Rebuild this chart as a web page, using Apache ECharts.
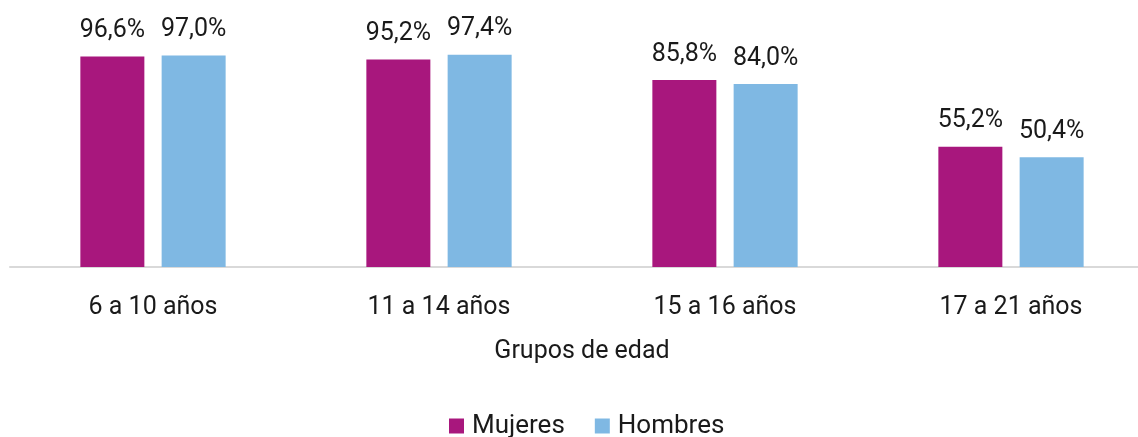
<!DOCTYPE html>
<html>
<head>
<meta charset="utf-8">
<script src="https://cdn.jsdelivr.net/npm/echarts@6/dist/echarts.min.js"></script>
<style>
  html, body { margin: 0; padding: 0; background: #fff; }
  #chart { width: 1138px; height: 437px; }
</style>
</head>
<body>
<div id="chart"></div>
<script>
var categories = ['6 a 10 años', '11 a 14 años', '15 a 16 años', '17 a 21 años'];
var mujeres = [96.6, 95.2, 85.8, 55.2];
var hombres = [97.0, 97.4, 84.0, 50.4];

var textColor = '#1a1a1a';
var font = 'Roboto, "Noto Sans", sans-serif';

function pct(p) {
    return p.value.toFixed(1).replace('.', ',') + '%';
}

var myChart = echarts.init(document.getElementById('chart'));
var option = {
    animation: false,
    textStyle: { fontFamily: font },
    grid: { left: 10, width: 1144, top: 49, bottom: 170, containLabel: false, outerBoundsMode: 'none' },
    legend: {
        top: 408,
        left: 444,
        itemWidth: 15,
        itemHeight: 15,
        itemGap: 30,
        icon: 'rect',
        textStyle: { fontSize: 26, color: textColor, fontFamily: font, padding: [0, 0, 0, 3] }
    },
    xAxis: {
        type: 'category',
        data: categories,
        name: 'Grupos de edad',
        nameLocation: 'middle',
        nameGap: 72,
        nameTextStyle: { fontSize: 25, color: textColor },
        axisLine: { lineStyle: { color: '#d9d9d9', width: 2 } },
        axisTick: { show: false },
        axisLabel: { fontSize: 25, color: textColor, margin: 28 }
    },
    yAxis: {
        type: 'value',
        min: 0,
        max: 100,
        show: false
    },
    series: [
        {
            name: 'Mujeres',
            type: 'bar',
            data: mujeres,
            barWidth: 64,
            barGap: '27%',
            itemStyle: { color: '#a8177d' },
            label: { show: true, position: 'top', distance: 13, fontSize: 25, color: textColor, formatter: pct }
        },
        {
            name: 'Hombres',
            type: 'bar',
            data: hombres,
            barWidth: 64,
            itemStyle: { color: '#7fb8e3' },
            label: { show: true, position: 'top', distance: 13, fontSize: 25, color: textColor, formatter: pct }
        }
    ]
};
myChart.setOption(option);
</script>
</body>
</html>
